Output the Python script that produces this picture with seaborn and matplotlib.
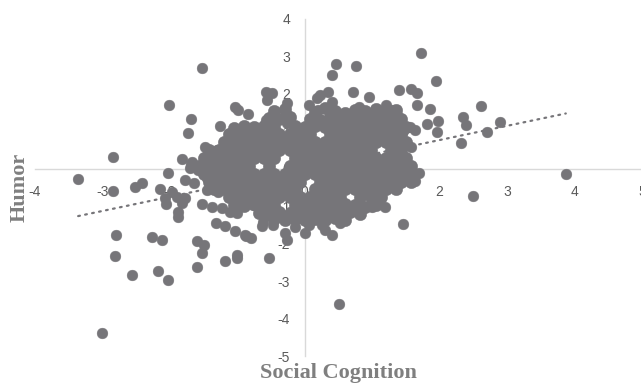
import matplotlib
matplotlib.use("Agg")
import matplotlib.pyplot as plt
import pandas as pd
import seaborn as sns

# Outlying / distinguishable points (Social Cognition, Humor)
outer_x = [-3.36, -3.0, -2.84, -2.84, -2.80, -2.81, -2.56, -2.52, -2.41, -2.27,
           -2.12, -2.18, -2.03, -2.01, -1.69, -1.73, -1.82, -1.69, -2.03, -1.78,
           -1.64, -1.53, -1.26, -1.04, -0.99, -0.84, -0.58, -0.49, -0.56, -0.27,
           -0.27, -1.60, -1.50, -1.53, -1.60, -1.18, -1.01, -1.01, -0.53, -1.88,
           -1.88, -2.06, -1.53, -1.31, -1.19, -1.04, -0.87, -0.80, -0.64, -0.47,
           -0.30, -0.27, 0.0, -2.15, -1.97, -2.07, -1.90, -1.78, -1.82, -1.70,
           -1.58, -1.45, -1.45, -1.29, -1.30, -1.38, -1.23, -1.11, -1.01, -0.89,
           -0.62, -0.62, -0.96, -0.77, -0.58, -1.01, -0.92, -0.79, -0.86, -1.48,
           -1.30, -1.11, -1.67, -1.38, -1.26, -0.56,
           0.46, 0.41, 0.76, 0.71, 0.95, 0.34, 0.22, 0.18, 0.41, 0.07,
           0.19, -0.42, -0.27, 0.41, 1.40, 1.72, 1.94, 1.57, 1.67, 1.67,
           1.85, 1.97, 1.96, 1.81, 2.34, 2.39, 2.61, 2.89, 2.70, 2.31,
           1.56, 1.63, 1.45, 1.58, 1.36, 1.45, 1.45, 1.70, 1.64, 3.87,
           2.50, 1.21, 1.29, 1.36, 0.81, 1.01, 1.14, 1.30, 0.95, 1.19,
           1.45, 1.45, 0.40, 0.52, 0.62, 1.0, 1.19, 1.11, 1.26, -0.15,
           0.07, 0.25, -0.22, -0.44, 0.50, 0.30]
outer_y = [-0.27, -4.38, 0.32, -0.59, -1.76, -2.32, -2.85, -0.48, -0.38, -1.81,
           -1.91, -2.72, -2.96, 1.71, 1.33, 0.96, 0.27, 0.13, -0.11, -0.29,
           -0.38, 2.69, 1.15, 1.65, 1.57, 1.47, 2.05, 2.02, 1.84, 1.76,
           1.44, -1.92, -2.03, -2.25, -2.61, -2.45, -2.29, -2.37, -2.37, -1.15,
           -1.28, -0.93, -0.93, -1.45, -1.54, -1.67, -1.79, -1.85, -1.54, -1.49,
           -1.71, -1.89, -1.71, -0.53, -0.61, -0.78, -0.75, -0.77, -0.91, 0.03,
           -0.03, -0.24, -0.56, -0.61, -0.11, -1.01, -1.04, -1.15, -1.17, -1.76,
           -1.15, -1.41, -0.88, -0.96, 1.31, 1.04, 0.99, 0.91, 0.83, 0.59,
           0.51, 0.56, 0.19, 0.32, 0.19, 0.59,
           2.80, 2.51, 2.75, 2.05, 1.92, 2.05, 1.97, 1.89, 1.79, 1.71,
           1.57, 1.31, 1.23, 1.49, 2.11, 3.09, 2.35, 2.13, 2.03, 1.71,
           1.60, 1.28, 0.99, 1.20, 1.39, 1.17, 1.68, 1.25, 0.99, 0.69,
           1.12, 1.04, 1.01, 0.59, 0.61, 0.35, 0.19, -0.11, -0.32, -0.13,
           -0.72, 1.71, 1.57, 1.44, 1.65, 1.49, 1.17, 1.23, 1.17, 0.91,
           -0.29, -1.47, -1.76, -1.44, -1.15, -1.01, -1.01, -0.78, -0.43, -1.55,
           -1.49, -1.49, -1.15, -1.23, -3.60, -1.63]

# Dense central cloud:
# each row is (Humor value(s), Social Cognition values)
core_rows = [
    ([1.55, 1.6, 1.52, 1.62, 1.55, 1.5, 1.58, 1.53, 1.6, 1.5, 1.56],
     [-0.45, -0.3, 0.15, 0.3, 0.45, 0.6, 0.75, 0.9, 1.05, 1.2, 1.35]),
    ([1.36, 1.32, 1.38, 1.33, 1.3, 1.37, 1.34, 1.31, 1.36, 1.33, 1.3, 1.37, 1.32],
     [-0.525, -0.375, -0.225, 0.075, 0.225, 0.375, 0.525, 0.675, 0.825, 0.975, 1.125, 1.275, 1.425]),
    ([1.1, 1.15, 1.12, 1.14, 1.11, 1.13, 1.12, 1.15, 1.11, 1.14, 1.13, 1.16, 1.12, 1.14, 1.11, 1.15, 1.12],
     [-1.05, -0.9, -0.75, -0.6, -0.45, -0.15, 0.0, 0.15, 0.3, 0.45, 0.6, 0.75, 0.9, 1.05, 1.2, 1.35, 1.5]),
    (0.92, [-1.125, -0.975, -0.825, -0.675, -0.525, -0.375, -0.225, -0.075, 0.075, 0.375, 0.525,
            0.675, 0.825, 0.975, 1.125, 1.275, 1.425]),
    (0.71, [-1.2, -1.05, -0.9, -0.75, -0.6, -0.45, -0.3, -0.15, 0.0, 0.15, 0.3, 0.45, 0.6, 0.75,
            0.9, 1.05, 1.2, 1.35, 1.5]),
    (0.50, [-1.425, -1.275, -1.125, -0.975, -0.825, -0.675, -0.525, -0.375, -0.225, -0.075, 0.075,
            0.225, 0.375, 0.525, 0.675, 0.825, 0.975, 1.275, 1.425]),
    (0.29, [-1.5, -1.35, -1.2, -1.05, -0.9, -0.75, -0.6, -0.45, -0.15, 0.0, 0.15, 0.3, 0.45, 0.6,
            0.75, 0.9, 1.05, 1.2, 1.35, 1.5]),
    (0.08, [-1.575, -1.425, -1.275, -1.125, -0.975, -0.825, -0.525, -0.225, -0.075, 0.075, 0.225,
            0.375, 0.525, 0.675, 0.825, 0.975, 1.125, 1.275, 1.425, 1.575]),
    (-0.13, [-1.5, -1.35, -1.2, -1.05, -0.9, -0.75, -0.6, -0.45, -0.3, -0.15, 0.0, 0.15, 0.3, 0.45,
             0.6, 0.75, 0.9, 1.05, 1.2, 1.35, 1.5, 1.62]),
    (-0.34, [-1.425, -1.275, -1.125, -0.975, -0.825, -0.675, -0.525, -0.375, -0.225, -0.075, 0.225,
             0.375, 0.525, 0.675, 0.825, 0.975, 1.125, 1.275, 1.425, 1.575]),
    (-0.55, [-1.35, -1.2, -1.05, -0.9, -0.75, -0.6, -0.45, -0.3, -0.15, 0.15, 0.3, 0.45, 0.6, 0.75,
             0.9, 1.05, 1.2, 1.35]),
    (-0.76, [-1.125, -0.975, -0.825, -0.675, -0.525, -0.375, -0.225, -0.075, 0.075, 0.225, 0.375,
             0.525, 0.825, 0.975, 1.125]),
    ([-0.97, -1.0, -0.95, -0.99, -0.96, -0.97, -0.94, -0.99, -0.96, -1.0, -0.95, -0.98, -1.02, -0.96],
     [-1.05, -0.9, -0.75, -0.6, -0.45, -0.15, 0.0, 0.15, 0.3, 0.45, 0.6, 0.75, 0.9, 1.05]),
    ([-1.18, -1.2, -1.16, -1.21, -1.17, -1.19, -1.15, -1.2, -1.18, -1.16, -1.21],
     [-0.675, -0.525, -0.375, -0.225, -0.075, 0.075, 0.225, 0.375, 0.525, 0.675, 0.825]),
    ([-1.35, -1.38, -1.33, -1.37, -1.34, -1.36, -1.32, -1.37],
     [-0.45, -0.3, -0.15, 0.0, 0.15, 0.3, 0.45, 0.6]),
]

# Linear trendline (Humor = slope * SC + intercept)
trend_slope = 0.379
trend_intercept = 0.01

x_ticks = [-4, -3, -2, -1, 0, 1, 2, 3, 4, 5]
y_ticks = [-5, -4, -3, -2, -1, 0, 1, 2, 3, 4]
x_title = "Social Cognition"
y_title = "Humor"

core_x, core_y = [], []
for ys, xs in core_rows:
    if not isinstance(ys, list):
        ys = [ys] * len(xs)
    core_x.extend(xs)
    core_y.extend(ys)

all_x = outer_x + core_x
all_y = outer_y + core_y
df = pd.DataFrame({"Social Cognition": all_x, "Humor": all_y})
core_df = pd.DataFrame({"Social Cognition": core_x, "Humor": core_y})
x_span = [min(all_x), max(all_x)]
trend = pd.DataFrame({"Social Cognition": x_span,
                      "Humor": [trend_slope * v + trend_intercept for v in x_span]})

sns.set_style("white")
plt.rcParams["font.family"] = ["Liberation Sans", "DejaVu Sans"]

POINT = "#767579"
fig = plt.figure(figsize=(6.41, 3.83), dpi=100)
ax = fig.add_axes([35 / 641, 1 - 356 / 383, 607 / 641, 337 / 383])

# underlay that closes the hairline seams between overlapping markers in the dense cloud
sns.scatterplot(data=core_df, x="Social Cognition", y="Humor", ax=ax, s=80,
                color=POINT, edgecolor=POINT, linewidth=0.3, alpha=1,
                zorder=2.8, legend=False)
sns.scatterplot(data=df, x="Social Cognition", y="Humor", ax=ax, s=60,
                color=POINT, edgecolor=POINT, linewidth=0.3, alpha=1,
                zorder=3, legend=False)
sns.lineplot(data=trend, x="Social Cognition", y="Humor", ax=ax,
             color=POINT, lw=1.6, ls=(0, (0.8, 2.4)),
             dash_capstyle="round", zorder=4)

ax.set_xlim(-4, 5)
ax.set_ylim(-5, 4)
ax.set_xticks(x_ticks)
ax.set_yticks(y_ticks)
ax.set_xticklabels([str(t) for t in x_ticks])
ax.set_yticklabels([str(t) for t in y_ticks])

for side in ["top", "right"]:
    ax.spines[side].set_visible(False)
ax.spines["left"].set_position(("data", 0))
ax.spines["bottom"].set_position(("data", 0))
for side in ["left", "bottom"]:
    ax.spines[side].set_color("#d9d9d9")
    ax.spines[side].set_linewidth(1.0)
    ax.spines[side].set_zorder(0.5)
ax.set_axisbelow(True)

ax.tick_params(axis="both", direction="out", length=3.5, width=0.8,
               color="#d9d9d9", labelcolor="#595959", labelsize=10)
ax.tick_params(axis="x", pad=8)
ax.tick_params(axis="y", pad=7)

ax.set_xlabel(x_title, fontfamily="Liberation Serif", fontweight="bold",
              fontsize=16, color="#7f7f7f")
ax.set_ylabel(y_title, fontfamily="Liberation Serif", fontweight="bold",
              fontsize=16, color="#7f7f7f")
ax.xaxis.label.set_va("center")
ax.yaxis.label.set_va("center")
ax.xaxis.set_label_coords(0.5, (356 - 373) / 337)
ax.yaxis.set_label_coords((20 - 35) / 607, 0.5)

fig.savefig("out.png", dpi=100)
